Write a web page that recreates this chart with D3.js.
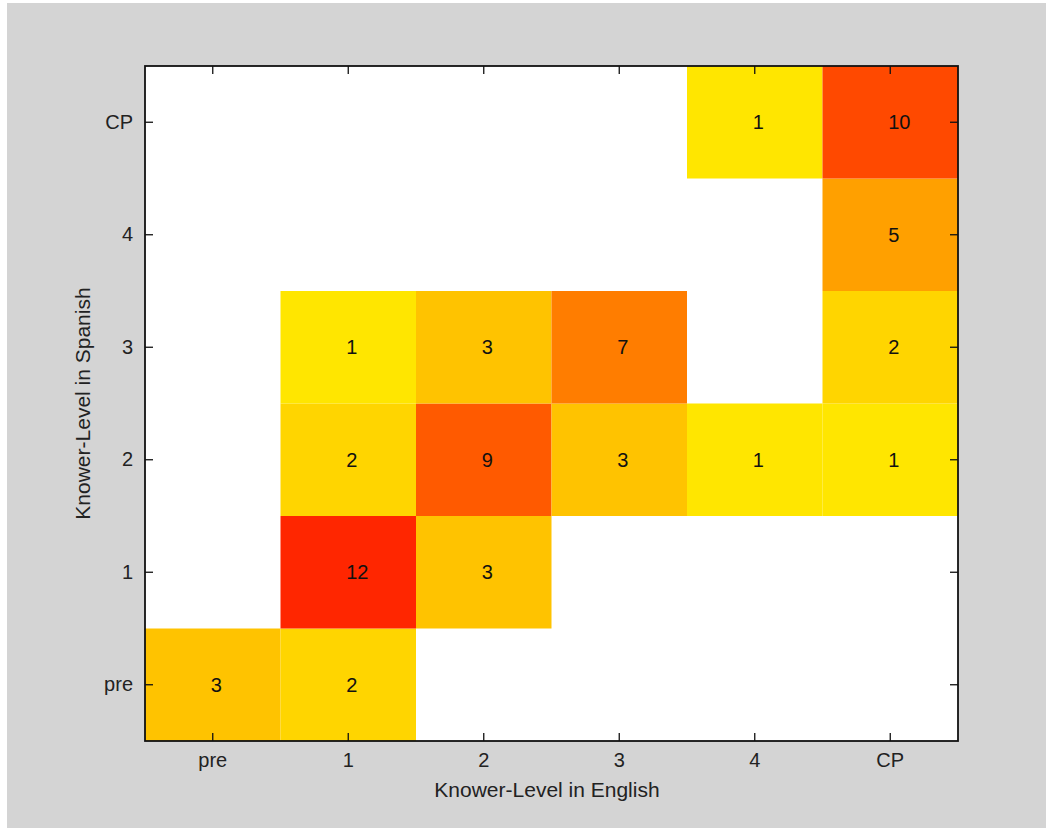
<!DOCTYPE html>
<html><head><meta charset="utf-8">
<script src="https://cdn.jsdelivr.net/npm/d3@7"></script>
<style>
html,body{margin:0;padding:0;background:#fff;}
svg{display:block;}
text{font-family:"Liberation Sans",Arial,Helvetica,sans-serif;}
</style></head>
<body>
<script>
const englishLevels = ["pre","1","2","3","4","CP"];
const spanishLevels = ["pre","1","2","3","4","CP"];
// counts[spanishIndex][englishIndex]
const rowPre = [3, 2, 0, 0, 0, 0];
const row1   = [0, 12, 3, 0, 0, 0];
const row2   = [0, 2, 9, 3, 1, 1];
const row3   = [0, 1, 3, 7, 0, 2];
const row4   = [0, 0, 0, 0, 0, 5];
const rowCP  = [0, 0, 0, 0, 1, 10];
const counts = [rowPre, row1, row2, row3, row4, rowCP];

(function () {
const W = 1046, H = 828;
const svg = d3.select("body").append("svg").attr("width", W).attr("height", H);
svg.append("rect").attr("x", 7).attr("y", 3).attr("width", W - 7).attr("height", H - 3).attr("fill", "#d4d4d4");

const pL = 145, pR = 958, pT = 66, pB = 741;
const x = d3.scaleBand().domain(englishLevels).range([pL, pR]).padding(0);
const y = d3.scaleBand().domain(spanishLevels).range([pB, pT]).padding(0);
const color = d3.scaleLinear().domain([1, 12]).range(["#ffe600", "#ff2600"]);

svg.append("rect").attr("x", pL).attr("y", pT).attr("width", pR - pL).attr("height", pB - pT).attr("fill", "#fff");

const cells = [];
counts.forEach((row, si) => row.forEach((v, ei) => { if (v > 0) cells.push({s: spanishLevels[si], e: englishLevels[ei], v}); }));

svg.append("g").selectAll("rect").data(cells).join("rect")
  .attr("x", d => x(d.e)).attr("y", d => y(d.s))
  .attr("width", x.bandwidth()).attr("height", y.bandwidth())
  .attr("fill", d => color(d.v));

svg.append("g").selectAll("text").data(cells).join("text")
  .attr("x", d => x(d.e) + x.bandwidth() / 2 - 2)
  .attr("y", d => y(d.s) + y.bandwidth() / 2)
  .attr("dy", "0.35em").attr("text-anchor", "start")
  .attr("font-size", 20).attr("fill", "#111")
  .text(d => d.v);

const tl = 8;
const axB = d3.axisBottom(x).tickSizeInner(-tl).tickSizeOuter(0).tickPadding(12);
const axL = d3.axisLeft(y).tickSizeInner(-tl).tickSizeOuter(0).tickPadding(12);
const axT = d3.axisTop(x).tickSizeInner(-tl).tickSizeOuter(0).tickFormat("");
const axR = d3.axisRight(y).tickSizeInner(-tl).tickSizeOuter(0).tickFormat("");

function style(g) {
  g.select(".domain").remove();
  g.selectAll("line").attr("stroke", "#111").attr("stroke-width", 1.3);
  g.selectAll("text").attr("font-size", 20).attr("fill", "#222").attr("font-family", '"Liberation Sans",Arial,sans-serif');
}
svg.append("g").attr("transform", `translate(0,${pB})`).call(axB).call(style);
svg.append("g").attr("transform", `translate(${pL},0)`).call(axL).call(style);
svg.append("g").attr("transform", `translate(0,${pT})`).call(axT).call(style);
svg.append("g").attr("transform", `translate(${pR},0)`).call(axR).call(style);

svg.append("rect").attr("x", pL).attr("y", pT).attr("width", pR - pL).attr("height", pB - pT)
  .attr("fill", "none").attr("stroke", "#111").attr("stroke-width", 1.8);

svg.append("text").attr("x", 547).attr("y", 797).attr("text-anchor", "middle")
  .attr("font-size", 21).attr("fill", "#222").text("Knower-Level in English");
svg.append("text").attr("transform", `translate(90,${(pT + pB) / 2}) rotate(-90)`).attr("text-anchor", "middle")
  .attr("font-size", 21).attr("fill", "#222").text("Knower-Level in Spanish");
})();
</script>
</body></html>
